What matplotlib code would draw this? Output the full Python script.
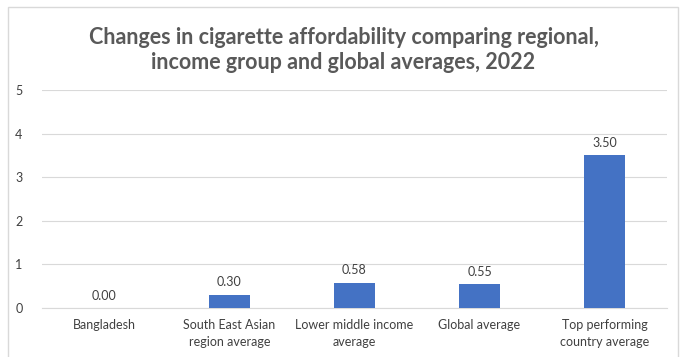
import matplotlib.pyplot as plt
from matplotlib.patches import Rectangle

categories = ["Bangladesh", "South East Asian\nregion average", "Lower middle income\naverage",
              "Global average", "Top performing\ncountry average"]
values = [0.00, 0.30, 0.58, 0.55, 3.50]
yticks = [0, 1, 2, 3, 4, 5]

plt.rcParams['font.family'] = ['Lato', 'DejaVu Sans']

fig = plt.figure(figsize=(6.87, 3.57), dpi=100)
ax = fig.add_axes([0.061, 0.137, 0.91, 0.611])

x = range(len(categories))
bars = ax.bar(x, values, width=0.33, color='#4472C4', zorder=3)
for xi, v in zip(x, values):
    ax.text(xi, v + 0.15, f"{v:.2f}", ha='center', va='bottom', fontsize=9, color='#404040')

ax.set_xlim(-0.5, len(categories) - 0.5)
ax.set_ylim(0, 5)
ax.set_yticks(yticks)
ax.set_xticks(list(x))
ax.set_xticklabels(categories, fontsize=9, color='#404040', linespacing=1.5)
ax.tick_params(axis='y', labelsize=9, labelcolor='#404040', length=0, pad=14)
ax.tick_params(axis='x', length=0, pad=8)
ax.yaxis.grid(True, color='#D9D9D9', linewidth=0.8, zorder=0)
for s in ['top', 'right', 'left']:
    ax.spines[s].set_visible(False)
ax.spines['bottom'].set_color('#D9D9D9')

fig.text(0.5, 0.86, "Changes in cigarette affordability comparing regional,\nincome group and global averages, 2022",
         ha='center', va='center', fontsize=15.5, fontweight='bold', color='#595959', linespacing=1.25)

fig.patches.append(Rectangle((8 / 687, -0.05), 670 / 687, 1 - 7 / 357 + 0.05, transform=fig.transFigure,
                             fill=False, edgecolor='#D9D9D9', linewidth=1))

fig.savefig("out.png", dpi=100)
